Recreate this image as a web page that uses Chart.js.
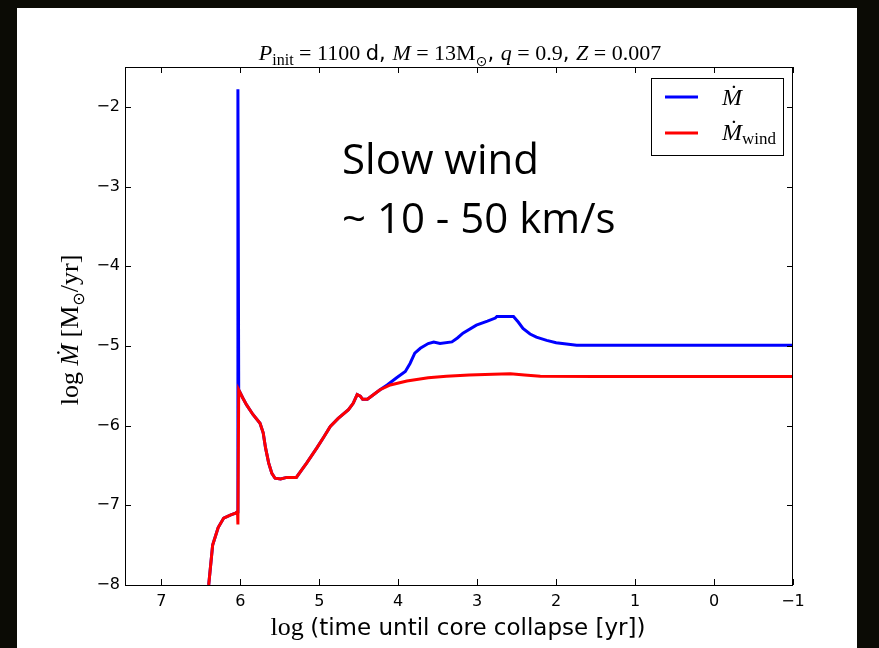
<!DOCTYPE html>
<html>
<head>
<meta charset="utf-8">
<script src="https://cdn.jsdelivr.net/npm/chart.js@4.4.1/dist/chart.umd.min.js"></script>
<style>
  html, body { margin: 0; padding: 0; background: #0b0b05; width: 879px; height: 648px; overflow: hidden; }
  #wrap { position: absolute; left: 17px; top: 8px; width: 840px; height: 640px; background: #fff; }
  #wrap canvas { display: block; }
</style>
</head>
<body>
<div id="wrap"><canvas id="mdotChart" width="840" height="640"></canvas></div>
<script>
// log (time until core collapse [yr]) and log Mdot [Msun/yr]
const totalX = [6.40, 6.35, 6.28, 6.21, 6.12, 6.06, 6.035, 6.03, 6.02, 5.97, 5.92, 5.84, 5.75, 5.71, 5.68, 5.64, 5.60, 5.56, 5.49, 5.41, 5.29, 5.24, 5.16, 5.03, 4.94, 4.86, 4.76, 4.63, 4.57, 4.52, 4.48, 4.45, 4.39, 4.31, 4.23, 4.14, 4.02, 3.91, 3.85, 3.79, 3.72, 3.62, 3.55, 3.47, 3.32, 3.25, 3.18, 3.01, 2.87, 2.77, 2.75, 2.54, 2.48, 2.42, 2.33, 2.25, 2.12, 2.00, 1.74, -1];
const totalY = [-8.0, -7.50, -7.28, -7.16, -7.12, -7.10, -7.08, -1.78, -5.55, -5.65, -5.74, -5.86, -5.97, -6.09, -6.28, -6.47, -6.60, -6.66, -6.67, -6.65, -6.65, -6.58, -6.47, -6.28, -6.14, -6.01, -5.91, -5.80, -5.72, -5.61, -5.63, -5.67, -5.67, -5.61, -5.55, -5.49, -5.40, -5.32, -5.22, -5.09, -5.03, -4.97, -4.95, -4.97, -4.95, -4.90, -4.84, -4.74, -4.69, -4.65, -4.63, -4.63, -4.70, -4.78, -4.85, -4.89, -4.93, -4.96, -4.99, -4.99];

const windX = [6.40, 6.35, 6.28, 6.21, 6.12, 6.06, 6.035, 6.03, 6.02, 5.97, 5.92, 5.84, 5.75, 5.71, 5.68, 5.64, 5.60, 5.56, 5.49, 5.41, 5.29, 5.24, 5.16, 5.03, 4.94, 4.86, 4.76, 4.63, 4.57, 4.52, 4.48, 4.45, 4.39, 4.31, 4.23, 4.10, 3.89, 3.62, 3.39, 3.10, 2.80, 2.58, 2.40, 2.20, 1.50, -1];
const windY = [-8.0, -7.50, -7.28, -7.16, -7.12, -7.10, -7.08, -7.24, -5.55, -5.65, -5.74, -5.86, -5.97, -6.09, -6.28, -6.47, -6.60, -6.66, -6.67, -6.65, -6.65, -6.58, -6.47, -6.28, -6.14, -6.01, -5.91, -5.80, -5.72, -5.61, -5.63, -5.67, -5.67, -5.61, -5.55, -5.49, -5.44, -5.40, -5.38, -5.365, -5.355, -5.35, -5.365, -5.38, -5.385, -5.385];

const xRange = [-1, 7.46];
const yRange = [-8, -1.5];

const toPoints = (xs, ys) => xs.map((x, i) => ({ x: x, y: ys[i] }));
const minus = v => String(v).replace('-', '\u2212');

const SERIF = "'Liberation Serif', 'DejaVu Serif', serif";
const SANS = "'DejaVu Sans', sans-serif";

// draws a run of text pieces with different fonts, starting at x
function drawRun(ctx, parts, x, y, align) {
    let total = 0;
    parts.forEach(p => { ctx.font = p.f; total += ctx.measureText(p.t).width; });
    let cx = align === 'center' ? x - total / 2 : x;
    parts.forEach(p => {
        ctx.font = p.f;
        ctx.fillText(p.t, cx, y + (p.dy || 0));
        cx += ctx.measureText(p.t).width;
    });
}

const decorations = {
    id: 'decorations',
    afterDraw(chart) {
        const ctx = chart.ctx;
        const a = chart.chartArea;
        const sx = chart.scales.x, sy = chart.scales.y;
        ctx.save();
        ctx.strokeStyle = '#000';
        ctx.lineWidth = 1;
        // frame
        ctx.strokeRect(a.left + 0.5, a.top + 0.5, a.right - a.left - 1, a.bottom - a.top);
        // inward ticks on all four sides
        ctx.beginPath();
        sx.ticks.forEach(t => {
            const px = Math.round(sx.getPixelForValue(t.value)) + 0.5;
            ctx.moveTo(px, a.bottom); ctx.lineTo(px, a.bottom - 6);
            ctx.moveTo(px, a.top); ctx.lineTo(px, a.top + 6);
        });
        sy.ticks.forEach(t => {
            const py = Math.round(sy.getPixelForValue(t.value)) + 0.5;
            ctx.moveTo(a.left, py); ctx.lineTo(a.left + 6, py);
            ctx.moveTo(a.right, py); ctx.lineTo(a.right - 6, py);
        });
        ctx.stroke();

        ctx.fillStyle = '#000';
        ctx.textBaseline = 'alphabetic';
        // title
        drawRun(ctx, [
            { t: 'P', f: 'italic 22px ' + SERIF },
            { t: 'init', f: '16px ' + SERIF, dy: 5 },
            { t: ' = 1100 ', f: '22px ' + SERIF },
            { t: 'd', f: '21px ' + SANS },
            { t: ', ', f: '21px ' + SANS },
            { t: 'M', f: 'italic 22px ' + SERIF },
            { t: ' = 13M', f: '22px ' + SERIF },
            { t: '\u2299', f: '14px ' + SANS, dy: 6 },
            { t: ', ', f: '21px ' + SANS },
            { t: 'q', f: 'italic 22px ' + SERIF },
            { t: ' = 0.9', f: '22px ' + SERIF },
            { t: ', ', f: '21px ' + SANS },
            { t: 'Z', f: 'italic 22px ' + SERIF },
            { t: ' = 0.007', f: '22px ' + SERIF }
        ], 443, 52, 'center');

        // x axis label
        drawRun(ctx, [
            { t: 'log ', f: '26px ' + SERIF },
            { t: '(time until core collapse [yr])', f: '23px ' + SANS }
        ], 441, 627, 'center');

        // y axis label
        ctx.save();
        ctx.translate(61, 322);
        ctx.rotate(-Math.PI / 2);
        drawRun(ctx, [
            { t: 'log ', f: '26px ' + SERIF },
            { t: '\u1E40', f: 'italic 26px ' + SERIF },
            { t: ' [M', f: '26px ' + SERIF },
            { t: '\u2299', f: '16px ' + SANS, dy: 6 },
            { t: '/yr]', f: '26px ' + SERIF }
        ], 0, 0, 'center');
        ctx.restore();

        // legend
        ctx.strokeRect(634.5, 70.5, 132, 77);
        ctx.lineWidth = 3;
        ctx.strokeStyle = '#0000ff';
        ctx.beginPath(); ctx.moveTo(648, 89); ctx.lineTo(681, 89); ctx.stroke();
        ctx.strokeStyle = '#ff0000';
        ctx.beginPath(); ctx.moveTo(648, 125); ctx.lineTo(681, 125); ctx.stroke();
        drawRun(ctx, [{ t: '\u1E40', f: 'italic 24px ' + SERIF }], 705, 97, 'left');
        drawRun(ctx, [
            { t: '\u1E40', f: 'italic 24px ' + SERIF },
            { t: 'wind', f: '17px ' + SERIF, dy: 4 }
        ], 705, 132, 'left');

        // annotation
        ctx.font = "42px 'Open Sans', sans-serif";
        ctx.fillText('Slow wind', 325, 166);
        ctx.fillText('~ 10 - 50 km/s', 325, 225);
        ctx.restore();
    }
};

const ctx = document.getElementById('mdotChart').getContext('2d');
const mdotChart = new Chart(ctx, {
    type: 'line',
    data: {
        datasets: [
            {
                label: 'Mdot',
                data: toPoints(totalX, totalY),
                borderColor: '#0000ff',
                borderWidth: 3,
                pointRadius: 0,
                tension: 0,
                order: 1
            },
            {
                label: 'Mdot wind',
                data: toPoints(windX, windY),
                borderColor: '#ff0000',
                borderWidth: 3,
                pointRadius: 0,
                tension: 0,
                order: 0
            }
        ]
    },
    options: {
        responsive: false,
        animation: false,
        events: [],
        layout: { padding: { left: 48, right: 64, top: 59, bottom: 23 } },
        plugins: { legend: { display: false }, tooltip: { enabled: false } },
        scales: {
            x: {
                type: 'linear',
                reverse: true,
                min: xRange[0],
                max: xRange[1],
                afterFit: s => { s.height = 40; },
                grid: { display: false, drawTicks: false },
                border: { display: false },
                ticks: {
                    stepSize: 1,
                    includeBounds: false,
                    padding: 7,
                    color: '#000',
                    font: { family: 'DejaVu Sans', size: 16 },
                    maxRotation: 0,
                    callback: v => minus(v)
                }
            },
            y: {
                type: 'linear',
                min: yRange[0],
                max: yRange[1],
                afterFit: s => { s.width = 60; },
                grid: { display: false, drawTicks: false },
                border: { display: false },
                ticks: {
                    stepSize: 1,
                    includeBounds: false,
                    padding: 5,
                    color: '#000',
                    font: { family: 'DejaVu Sans', size: 16 },
                    callback: v => minus(v)
                }
            }
        }
    },
    plugins: [decorations]
});
</script>
</body>
</html>
